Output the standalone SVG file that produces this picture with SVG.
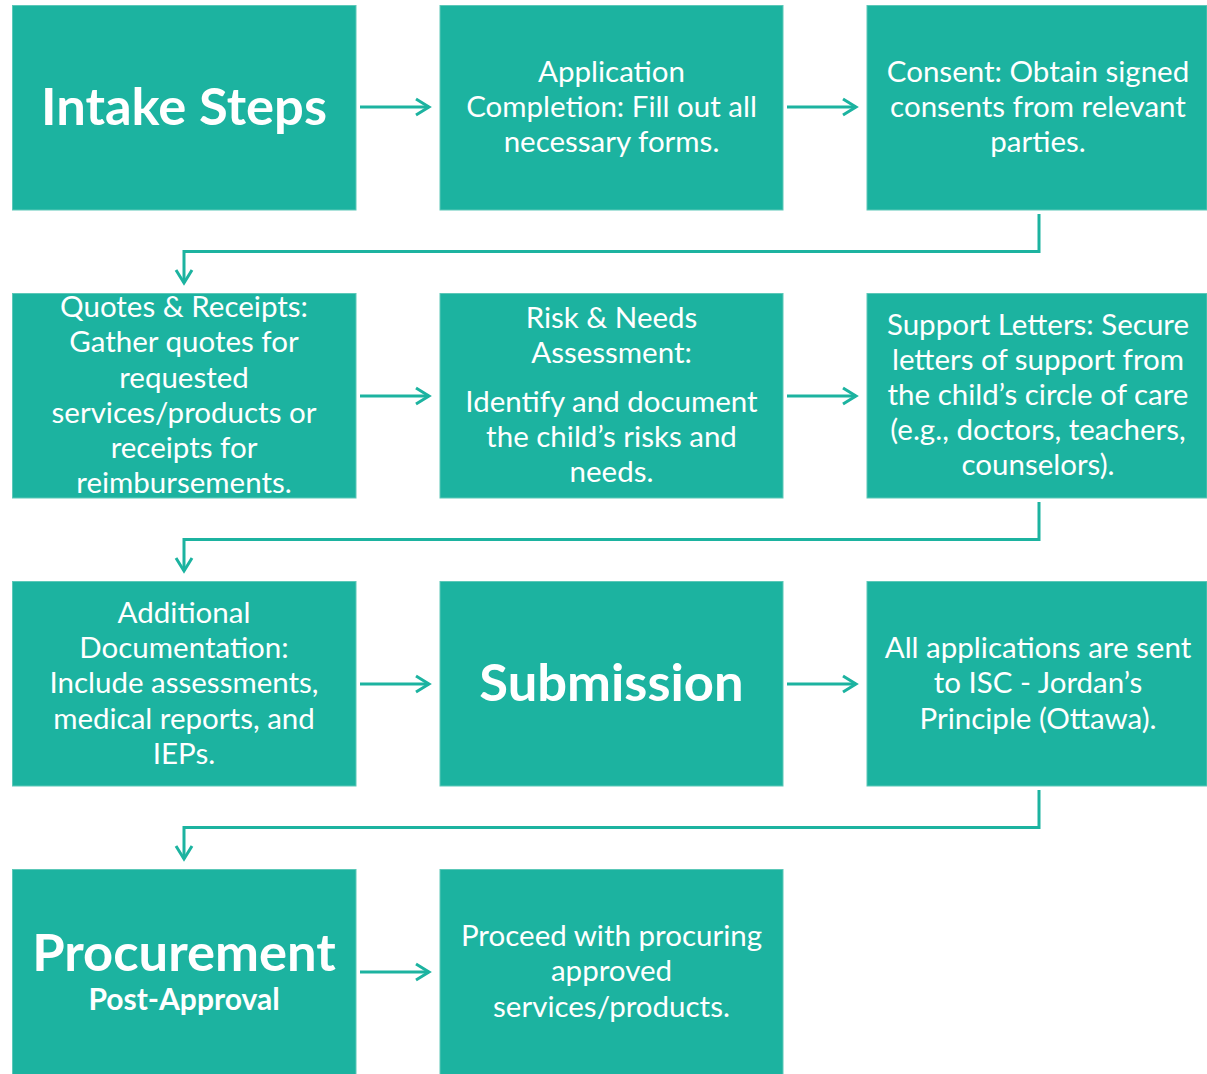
<svg xmlns="http://www.w3.org/2000/svg" width="1207" height="1074" viewBox="0 0 1207 1074">
<defs>
<marker id="ah" viewBox="0 0 20 20" refX="17" refY="10" markerWidth="20" markerHeight="20" markerUnits="userSpaceOnUse" orient="auto">
<path d="M4,2 L17,10 L4,18" fill="none" stroke="#1cb3a0" stroke-width="3"/>
</marker>
</defs>
<style>
.box{fill:#1cb3a0;stroke:#5cc8b8;stroke-width:1}
.t{font-family:Lato,"Open Sans",sans-serif;font-size:29.5px;fill:#fff;text-anchor:middle}
.big{font-family:Lato,"Open Sans",sans-serif;font-size:52.5px;font-weight:bold;fill:#fff;text-anchor:middle}
.sub{font-family:Lato,"Open Sans",sans-serif;font-size:30px;font-weight:bold;fill:#fff;text-anchor:middle}
.c{fill:none;stroke:#1cb3a0;stroke-width:3}
</style>
<g id="intake"><rect class="box" x="12.5" y="5.5" width="343.5" height="204.5"/><text class="big" x="184" y="125">Intake Steps</text></g>
<g id="application"><rect class="box" x="440" y="5.5" width="343" height="204.5"/><text class="t" x="611.5" y="82">Application</text><text class="t" x="611.5" y="117">Completion: Fill out all</text><text class="t" x="611.5" y="152">necessary forms.</text></g>
<g id="consent"><rect class="box" x="867" y="5.5" width="340" height="204.5"/><text class="t" x="1038" y="82">Consent: Obtain signed</text><text class="t" x="1038" y="117">consents from relevant</text><text class="t" x="1038" y="152">parties.</text></g>
<g id="quotes"><rect class="box" x="12.5" y="293.5" width="343.5" height="204.5"/><text class="t" x="184" y="317">Quotes &amp; Receipts:</text><text class="t" x="184" y="352">Gather quotes for</text><text class="t" x="184" y="388">requested</text><text class="t" x="184" y="423">services/products or</text><text class="t" x="184" y="458">receipts for</text><text class="t" x="184" y="493">reimbursements.</text></g>
<g id="risk"><rect class="box" x="440" y="293.5" width="343" height="204.5"/><text class="t" x="611.5" y="328">Risk &amp; Needs</text><text class="t" x="611.5" y="363">Assessment:</text><text class="t" x="611.5" y="412">Identify and document</text><text class="t" x="611.5" y="447">the child’s risks and</text><text class="t" x="611.5" y="482">needs.</text></g>
<g id="support"><rect class="box" x="867" y="293.5" width="340" height="204.5"/><text class="t" x="1038" y="335">Support Letters: Secure</text><text class="t" x="1038" y="370">letters of support from</text><text class="t" x="1038" y="405">the child’s circle of care</text><text class="t" x="1038" y="440">(e.g., doctors, teachers,</text><text class="t" x="1038" y="475">counselors).</text></g>
<g id="additional"><rect class="box" x="12.5" y="581.5" width="343.5" height="204.5"/><text class="t" x="184" y="623">Additional</text><text class="t" x="184" y="658">Documentation:</text><text class="t" x="184" y="693">Include assessments,</text><text class="t" x="184" y="729">medical reports, and</text><text class="t" x="184" y="764">IEPs.</text></g>
<g id="submission"><rect class="box" x="440" y="581.5" width="343" height="204.5"/><text class="big" x="611.5" y="701">Submission</text></g>
<g id="isc"><rect class="box" x="867" y="581.5" width="340" height="204.5"/><text class="t" x="1038" y="658">All applications are sent</text><text class="t" x="1038" y="693">to ISC - Jordan’s</text><text class="t" x="1038" y="729">Principle (Ottawa).</text></g>
<g id="procurement"><rect class="box" x="12.5" y="869.5" width="343.5" height="205"/><text class="big" x="184" y="971">Procurement</text><text class="sub" x="184" y="1010">Post-Approval</text></g>
<g id="proceed"><rect class="box" x="440" y="869.5" width="343" height="205"/><text class="t" x="611.5" y="946">Proceed with procuring</text><text class="t" x="611.5" y="981">approved</text><text class="t" x="611.5" y="1017">services/products.</text></g>
<g id="connectors">
<path class="c" d="M360,107 H429" marker-end="url(#ah)"/>
<path class="c" d="M787,107 H856" marker-end="url(#ah)"/>
<path class="c" d="M1039,214 V251.5 H184 V283" marker-end="url(#ah)"/>
<path class="c" d="M360,396 H429" marker-end="url(#ah)"/>
<path class="c" d="M787,396 H856" marker-end="url(#ah)"/>
<path class="c" d="M1039,502 V539.5 H184 V571" marker-end="url(#ah)"/>
<path class="c" d="M360,684 H429" marker-end="url(#ah)"/>
<path class="c" d="M787,684 H856" marker-end="url(#ah)"/>
<path class="c" d="M1039,790 V827.5 H184 V859" marker-end="url(#ah)"/>
<path class="c" d="M360,972 H429" marker-end="url(#ah)"/>
</g>
</svg>
